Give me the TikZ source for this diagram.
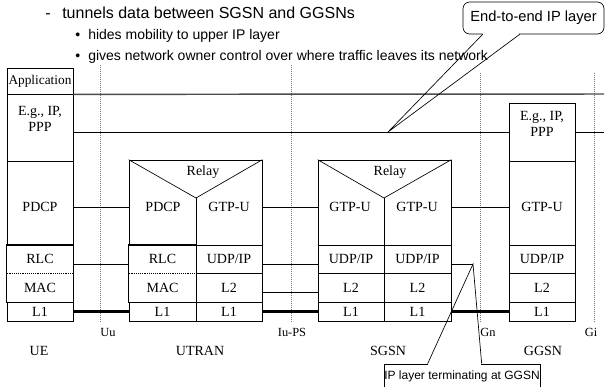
\documentclass[tikz,border=0pt]{standalone}
\usepackage{fontspec}
\setmainfont{Liberation Serif}
\newfontfamily\headfont{Liberation Sans}
\usetikzlibrary{positioning}

\tikzset{proto/.style 2 args = {draw, inner sep = 0pt, line width = 0.5pt,
                                minimum width = #1*0.75pt, minimum height = #2*0.75pt,
                                font = \fontsize{10.5}{12}\selectfont},
         protext/.style = {inner sep = 0pt, align = center, font = \fontsize{10.5}{12}\selectfont},
         link/.style = {line width = 0.5pt},
         phylink/.style = {line width = 1.6pt},
         applink/.style = {line width = 1.1pt, black!70},
         refpoint/.style = {densely dotted, line width = 0.5pt, black!55},
         refname/.style = {inner sep = 0pt, font = \fontsize{9.3}{10}\selectfont},
         nodename/.style = {inner sep = 0pt, font = \fontsize{10.5}{12}\selectfont},
         headline/.style = {anchor = base west, inner sep = 0pt, font = \headfont\fontsize{#1}{14}\selectfont},
         callbox/.style = {draw, inner sep = 0pt, line width = 0.5pt, font = \headfont\fontsize{#1}{12}\selectfont}
        }

\begin{document}
\begin{tikzpicture}[x=0.75pt, y=-0.75pt]
  \useasboundingbox (0,0) rectangle (606,386);

  \node[headline=12] (dash) at (45,18) {-};
  \node[headline=12] (tunnels) at (62,18) {tunnels data between SGSN and GGSNs};
  \node[headline=10.5] (bul1) at (75,39) {\textbullet};
  \node[headline=10.5] (hides) at (88,39) {hides mobility to upper IP layer};
  \node[headline=10.5] (bul2) at (75,60) {\textbullet};
  \node[headline=10.5] (gives) at (88,60) {gives network owner control over where traffic leaves its network};

  \foreach \x/\y in {100/65, 291/65, 480/73, 594/73} {\draw[refpoint] (\x, \y) -- (\x, 322);};
  \foreach \n/\x/\t in {uu/108/Uu, iups/292/Iu-PS, gn/488/Gn, gi/591/Gi}
      {\node[refname] (\n) at (\x, 332) {\t};};

  % UE
  \node[proto={66}{26}, font=\fontsize{10}{12}\selectfont] (ue-app) at (40,81) {Application};
  \node[proto={66}{67}] (ue-ip) at (40,127.5) {};
  \node[protext] (ue-ip-txt) at (40,119) {E.g., IP,\\PPP};
  \node[proto={66}{84}] (ue-pdcp) at (40,203) {};
  \node[protext] (ue-pdcp-txt) at (40,207) {PDCP};
  \node[proto={66}{28}, draw=none] (ue-rlc) at (40,259) {RLC};
  \node[proto={66}{29}, draw=none] (ue-mac) at (40,287.5) {MAC};
  \draw[link] (ue-rlc.north west) rectangle (ue-mac.south east);
  \draw[densely dotted] (ue-rlc.south west) -- (ue-rlc.south east);
  \node[proto={66}{19}] (ue-l1) at (40,311.5) {L1};

  % UTRAN
  \node[proto={133}{85}] (utran-relay) at (195.5,202.5) {};
  \coordinate (utran-v) at (196,198);
  \draw[link] (utran-relay.north west) -- (utran-v) -- (utran-relay.north east);
  \draw[link] (utran-v) -- (utran-v |- utran-relay.south);
  \node[protext] (utran-relay-txt) at (203,172) {Relay};
  \node[protext] (utran-pdcp) at (163,207) {PDCP};
  \node[protext] (utran-gtp) at (229,207) {GTP-U};
  \node[proto={67}{28}, draw=none] (utran-rlc) at (162.5,259) {RLC};
  \node[proto={67}{29}, draw=none] (utran-mac) at (162.5,287.5) {MAC};
  \draw[link] (utran-rlc.north west) rectangle (utran-mac.south east);
  \draw[densely dotted] (utran-rlc.south west) -- (utran-rlc.south east);
  \node[proto={67}{19}] (utran-l1a) at (162.5,311.5) {L1};
  \node[proto={66}{28}] (utran-udp) at (229,259) {UDP/IP};
  \node[proto={66}{29}] (utran-l2) at (229,287.5) {L2};
  \node[proto={66}{19}] (utran-l1b) at (229,311.5) {L1};

  % SGSN
  \node[proto={133}{85}] (sgsn-relay) at (384.5,202.5) {};
  \coordinate (sgsn-v) at (384,198);
  \draw[link] (sgsn-relay.north west) -- (sgsn-v) -- (sgsn-relay.north east);
  \draw[link] (sgsn-v) -- (sgsn-v |- sgsn-relay.south);
  \node[protext] (sgsn-relay-txt) at (390,172) {Relay};
  \node[protext] (sgsn-gtpa) at (350,207) {GTP-U};
  \node[protext] (sgsn-gtpb) at (417,207) {GTP-U};
  \node[proto={66}{28}] (sgsn-udpa) at (351,259) {UDP/IP};
  \node[proto={66}{29}] (sgsn-l2a) at (351,287.5) {L2};
  \node[proto={66}{19}] (sgsn-l1a) at (351,311.5) {L1};
  \node[proto={67}{28}] (sgsn-udpb) at (417.5,259) {UDP/IP};
  \node[proto={67}{29}] (sgsn-l2b) at (417.5,287.5) {L2};
  \node[proto={67}{19}] (sgsn-l1b) at (417.5,311.5) {L1};

  % GGSN
  \node[proto={66}{58}] (ggsn-ip) at (542,132) {};
  \node[protext] (ggsn-ip-txt) at (542,123.5) {E.g., IP,\\PPP};
  \node[proto={66}{84}] (ggsn-gtp) at (542,203) {};
  \node[protext] (ggsn-gtp-txt) at (542,207) {GTP-U};
  \node[proto={66}{28}] (ggsn-udp) at (542,259) {UDP/IP};
  \node[proto={66}{29}] (ggsn-l2) at (542,287.5) {L2};
  \node[proto={66}{19}] (ggsn-l1) at (542,311.5) {L1};

  \foreach \n/\x/\t in {ue/39/UE, utran/200/UTRAN, sgsn/388/SGSN, ggsn/543/GGSN}
      {\node[nodename] (\n-name) at (\x, 351) {\t};};

  \coordinate (app-end) at (604,94);
  \coordinate (ip-end) at (604,132);
  \coordinate (gn-tip) at (473,264);
  \coordinate (ip-tip) at (388,132);

  \draw[applink] (ue-app.south east) -- (app-end);
  \draw[link] (ue-ip.east |- ggsn-ip.west) -- (ggsn-ip.west);
  \draw[link] (ggsn-ip.east) -- (ip-end);
  \draw[link] (ue-pdcp-txt -| ue-pdcp.east) -- (ue-pdcp-txt -| utran-relay.west);
  \draw[link] (utran-gtp -| utran-relay.east) -- (utran-gtp -| sgsn-relay.west);
  \draw[link] (sgsn-gtpb -| sgsn-relay.east) -- (ggsn-gtp-txt -| ggsn-gtp.west);
  \draw[link] ([yshift=-3.75pt]ue-rlc.east) -- ([yshift=-3.75pt]utran-rlc.west);
  \draw[link] ([yshift=-3.75pt]utran-udp.east) -- ([yshift=-3.75pt]sgsn-udpa.west);
  \draw[link] ([yshift=-3.4pt]utran-l2.east) -- ([yshift=-3.4pt]sgsn-l2a.west);
  \draw[link] ([yshift=-3.75pt]sgsn-udpb.east) -- (gn-tip);
  \draw[phylink] (ue-l1.east) -- (utran-l1a.west);
  \draw[phylink] (utran-l1b.east) -- (sgsn-l1a.west);
  \draw[phylink] (sgsn-l1b.east) -- (ggsn-l1.west);

  % callouts
  \node[callbox=11, rounded corners=5pt, minimum width=105.75pt, minimum height=24pt] (e2e) at (533.5,18) {End-to-end IP layer};
  \fill[white] ([xshift=15.4pt,yshift=0.8pt]e2e.south west) rectangle ([xshift=42.4pt,yshift=-0.8pt]e2e.south west);
  \draw[line width=0.5pt] ([xshift=15pt]e2e.south west) -- (ip-tip) -- ([xshift=42.75pt]e2e.south west);

  \node[callbox=9, minimum width=117pt, minimum height=18pt] (ip-term) at (462,376) {IP layer terminating at GGSN};
  \fill[white] ([xshift=33.4pt,yshift=0.8pt]ip-term.north west) rectangle ([xshift=73.1pt,yshift=-0.8pt]ip-term.north west);
  \draw[line width=0.5pt] ([xshift=33pt]ip-term.north west) -- (gn-tip) -- ([xshift=73.5pt]ip-term.north west);
\end{tikzpicture}
\end{document}
